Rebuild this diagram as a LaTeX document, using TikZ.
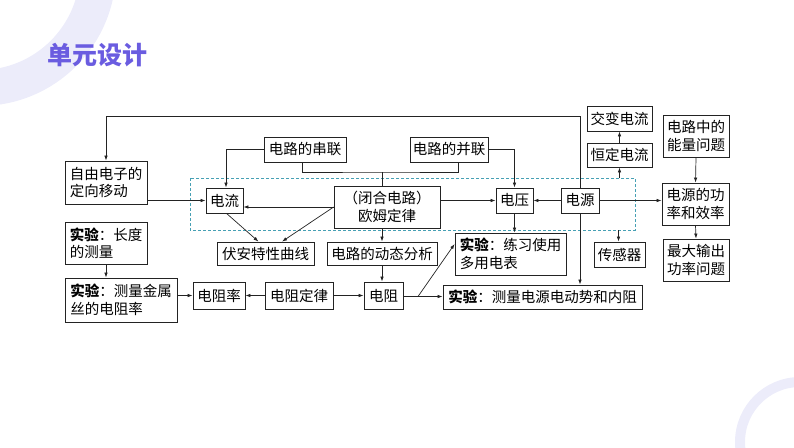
\documentclass[tikz,border=0pt]{standalone}
\usepackage{fontspec}
\setmainfont{Noto Sans CJK SC}
\usetikzlibrary{arrows.meta,positioning,calc}
\definecolor{titlepurple}{RGB}{106,92,224}
\definecolor{ringlav}{RGB}{236,236,250}
\definecolor{dashteal}{RGB}{70,160,180}
\definecolor{linegray}{RGB}{35,35,35}

\begin{document}
\begin{tikzpicture}[x=1pt,y=-1pt,
    box/.style={draw=linegray, line width=0.8pt, inner sep=1pt, align=left,
      font=\fontsize{14.5}{17.5}\selectfont},
    link/.style={draw=linegray, line width=0.7pt},
    arr/.style={link, -{Latex[length=5pt,width=3.5pt]}}]
\useasboundingbox (0,0) rectangle (794,447);
% decorative rings
\draw[ringlav, line width=36pt] (-20,-30) circle (118pt);
\draw[ringlav, line width=10pt] (800,442) circle (60pt);
\node[font=\fontsize{25}{28}\selectfont\bfseries, text=titlepurple] (title) at (97.5,55) {单元设计};

% dashed frame
\draw[dashteal, line width=0.7pt, dash pattern=on 3pt off 2pt] (190,178) rectangle (635,230);

% nodes
\node[box, minimum width=82pt, minimum height=43pt] (ziyou) at (106,182.5) {自由电子的\\定向移动};
\node[box, minimum width=82pt, minimum height=25pt] (chuanlian) at (305,149.5) {电路的串联};
\node[box, minimum width=78pt, minimum height=25pt] (binglian) at (449,149.5) {电路的并联};
\node[box, minimum width=37pt, minimum height=25pt] (dianliu) at (224.5,200.5) {电流};
\node[box, align=center, minimum width=106pt, minimum height=42pt] (ohm) at (387,207) {（闭合电路）\\欧姆定律};
\node[box, minimum width=37pt, minimum height=25pt] (dianya) at (514.5,200.5) {电压};
\node[box, minimum width=38pt, minimum height=25pt] (dianyuan) at (580,200.5) {电源};
\node[box, minimum width=65pt, minimum height=25pt] (jiaobian) at (619.5,118.5) {交变电流};
\node[box, minimum width=65pt, minimum height=24pt] (hengding) at (619.5,155) {恒定电流};
\node[box, minimum width=51pt, minimum height=25pt] (ganqi) at (619.5,254.5) {传感器};
\node[box, minimum width=66pt, minimum height=42pt] (nengliang) at (696,136) {电路中的\\能量问题};
\node[box, minimum width=67pt, minimum height=42pt] (gonglv) at (695.5,204) {电源的功\\率和效率};
\node[box, minimum width=66pt, minimum height=42pt] (zuida) at (696,260) {最大输出\\功率问题};
\node[box, minimum width=97pt, minimum height=23pt] (fuan) at (265.5,253.5) {伏安特性曲线};
\node[box, minimum width=110pt, minimum height=23pt] (dongtai) at (382,253.5) {电路的动态分析};
\node[box, minimum width=111pt, minimum height=42pt] (duoyong) at (510.5,254) {\textbf{实验}：练习使用\\多用电表};
\node[box, minimum width=39pt, minimum height=27pt] (dianzu) at (383.5,295.5) {电阻};
\node[box, minimum width=68pt, minimum height=27pt] (dinglv) at (299,295.5) {电阻定律};
\node[box, minimum width=52pt, minimum height=27pt] (zulv) at (219,295.5) {电阻率};
\node[box, minimum width=112pt, minimum height=44pt] (jinshu) at (121,300) {\textbf{实验}：测量金属\\丝的电阻率};
\node[box, minimum width=82pt, minimum height=42pt] (changdu) at (106,243) {\textbf{实验}：长度\\的测量};
\node[box, minimum width=199pt, minimum height=24pt] (dongshi) at (542.5,297) {\textbf{实验}：测量电源电动势和内阻};

% helper points
\coordinate (bus) at (382,172);
\coordinate (fork) at (418,296.5);

% connectors
\draw[arr] (dianyuan.north) -- (580,116) -| (ziyou.north);
\draw[arr] (dianyuan.south) -- (dianyuan.south |- dongshi.north);
\draw[arr] (ziyou.east |- dianliu.west) -- (dianliu.west);
\draw[arr] (chuanlian.west) -| ([xshift=1.5pt]dianliu.north);
\draw[link] ([xshift=-3pt]chuanlian.south) |- (bus) -| ([xshift=9pt]binglian.south);
\draw[link] (bus) -- (bus |- ohm.north);
\draw[arr] (binglian.east) -| (dianya.north);
\draw[arr] (ohm.west) -- (ohm.west -| dianliu.east);
\draw[arr] (ohm.west) -- ([xshift=16.5pt]fuan.north);
\draw[arr] ([xshift=2pt]dianliu.south) -- ([xshift=-7pt]fuan.north);
\draw[arr] (ohm.east |- dianya.west) -- (dianya.west);
\draw[arr] (dianyuan.west) -- (dianya.east);
\draw[arr] (dianyuan.east) -- (dianyuan.east -| gonglv.west);
\draw[arr] (619.5,178) -- (hengding.south);
\draw[arr] (hengding.north) -- (jiaobian.south);
\draw[arr] (618.5,230) -- (618.5,0 |- ganqi.north);
\draw[arr] (nengliang.south) -- (gonglv.north);
\draw[arr] (gonglv.south) -- (zuida.north);
\draw[arr] (dongtai.north |- ohm.south) -- (dongtai.north);
\draw[arr] (dongtai.south) -- (dongtai.south |- dianzu.north);
\draw[arr] (dinglv.west) -- (zulv.east);
\draw[arr] (dinglv.east) -- (dianzu.west);
\draw[arr] (changdu.south) -- (changdu.south |- jinshu.north);
\draw[arr] (jinshu.east |- zulv.west) -- (zulv.west);
\draw[arr] (dianzu.east |- fork) -- (fork -| dongshi.west);
\draw[arr] (fork) -- ([yshift=10pt]duoyong.west);
\draw[arr] (dianya.south) -- (dianya.south |- duoyong.north);
\end{tikzpicture}
\end{document}
